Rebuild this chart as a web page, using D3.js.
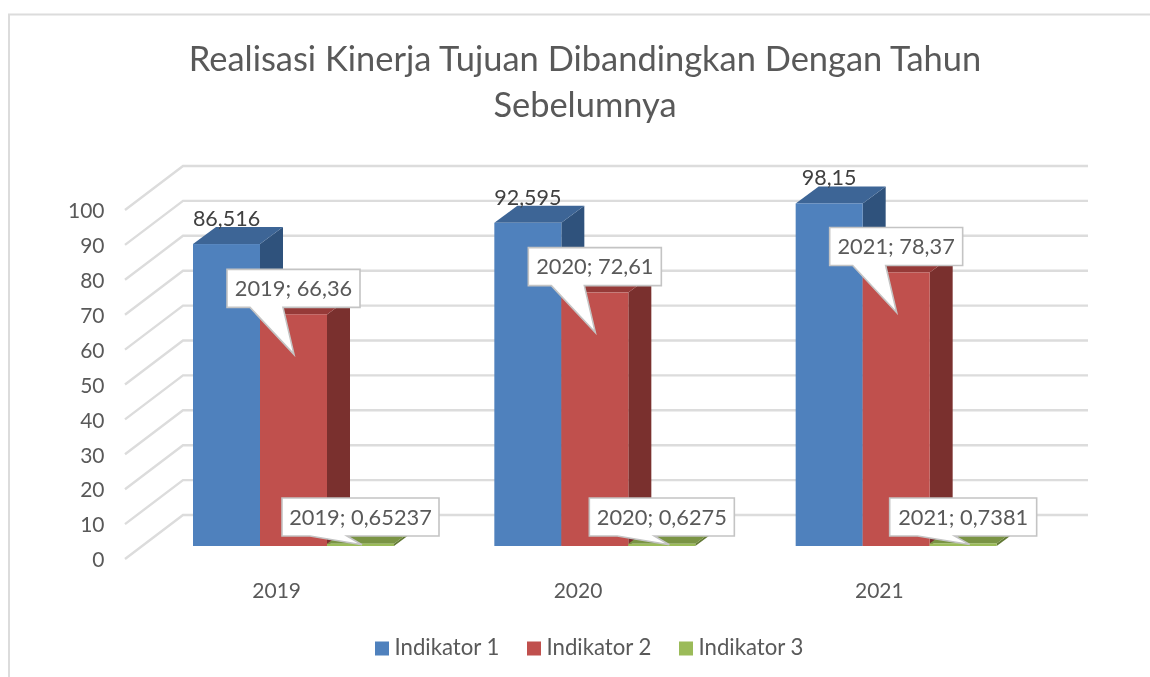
<!DOCTYPE html>
<html><head><meta charset="utf-8">
<script src="https://cdn.jsdelivr.net/npm/d3@7"></script>
<style>html,body{margin:0;padding:0;background:#fff}svg{display:block;filter:blur(0.45px)}text{font-family:Lato,"Open Sans",sans-serif}</style>
</head><body><svg id="c" width="1150" height="677"></svg>
<script>
const titleLines = ["Realisasi Kinerja Tujuan Dibandingkan Dengan Tahun", "Sebelumnya"];
const years = ["2019", "2020", "2021"];
const seriesNames = ["Indikator 1", "Indikator 2", "Indikator 3"];
const indikator1 = [86.516, 92.595, 98.15];
const indikator2 = [66.36, 72.61, 78.37];
const indikator3 = [0.65237, 0.6275, 0.7381];
const label1 = ["86,516", "92,595", "98,15"];
const label2 = ["2019; 66,36", "2020; 72,61", "2021; 78,37"];
const label3 = ["2019; 0,65237", "2020; 0,6275", "2021; 0,7381"];
const yTicks = [0,10,20,30,40,50,60,70,80,90,100];
const fronts = ["#4F81BD", "#C0504D", "#9BBB59"];
const tops = ["#3D6596", "#963A38", "#7A9444"];
const sides = ["#2F527C", "#7A302E", "#637A36"];
const values = [indikator1, indikator2, indikator3];

const svg = d3.select("#c");
const txt = "#595959";
// frame
svg.append("path").attr("d","M9,677V14.5H1150").attr("fill","none").attr("stroke","#dcdcdc").attr("stroke-width",2);
// title
svg.selectAll(".t").data(titleLines).join("text").attr("class","t")
  .attr("x",585).attr("y",(d,i)=>71+i*45.5).attr("text-anchor","middle")
  .attr("font-size",34.45).attr("fill",txt).text(d=>d);

const y = d3.scaleLinear().domain([0,100]).range([559,210]);
const x0 = d3.scaleBand().domain(years).range([126,1030]);
const x1 = d3.scaleBand().domain(seriesNames).range([0,201]);
const wallDx=58, wallDy=44, barOffX=67, barOffY=13, depthX=23, depthY=17;

// walls
const grid = svg.append("g").attr("fill","none").attr("stroke","#dcdcdc").attr("stroke-width",2.4);
grid.selectAll("path").data(yTicks).join("path")
  .attr("d",d=>`M125,${y(d)}L${125+wallDx},${y(d)-wallDy}H1088`);

// y axis
const ax = svg.append("g").attr("transform","translate(104.5,1)")
  .call(d3.axisLeft(y).tickValues(yTicks).tickSize(0).tickPadding(0));
ax.select(".domain").remove();
ax.selectAll("text").attr("font-size",21).attr("fill",txt).style("font-family","Lato");

// x axis labels
const xa = svg.append("g").attr("transform","translate(0,583)")
  .call(d3.axisBottom(x0).tickSize(0).tickPadding(0));
xa.select(".domain").remove();
xa.selectAll("text").attr("font-size",21).attr("fill",txt).style("font-family","Lato");

// bars
const geo = (yi,si)=>{
  const xL = x0(years[yi]) + barOffX + x1(seriesNames[si]);
  const w = x1.bandwidth();
  const yT = y(values[si][yi]) - barOffY, yB = y(0) - barOffY;
  return {xL,w,yT,yB};
};
years.forEach((yr,yi)=>{
  const g = svg.append("g");
  seriesNames.forEach((s,si)=>{
    const {xL,w,yT,yB} = geo(yi,si);
    g.append("path").attr("fill",sides[si])
     .attr("d",`M${xL+w},${yT}l${depthX},${-depthY}V${yB-depthY}L${xL+w},${yB}Z`);
    g.append("path").attr("fill",tops[si])
     .attr("d",`M${xL},${yT}l${depthX},${-depthY}h${w}l${-depthX},${depthY}Z`);
    g.append("rect").attr("fill",fronts[si]).attr("x",xL).attr("y",yT).attr("width",w).attr("height",yB-yT);
  });
});

// plain labels for first series
years.forEach((yr,yi)=>{
  const {xL,yT} = geo(yi,0);
  svg.append("text").attr("x",xL+33.5).attr("y",yT-18).attr("text-anchor","middle")
    .attr("font-size",21.5).attr("fill","#404040").text(label1[yi]);
});

// callouts
function callout(label,bx,by,bw,bh,b1,b2,tx,ty){
  const g = svg.append("g");
  g.append("path").attr("fill","#fff").attr("stroke","#c4c4c4").attr("stroke-width",1.6)
   .attr("stroke-linejoin","miter")
   .attr("d",`M${bx},${by}h${bw}v${bh}H${b2}L${tx},${ty}L${b1},${by+bh}H${bx}Z`);
  g.append("text").attr("x",bx+bw/2).attr("y",by+bh/2+7.5).attr("text-anchor","middle")
   .attr("font-size",21.8).attr("fill",txt).text(label);
}
years.forEach((yr,yi)=>{
  const r = geo(yi,1);
  const bx = r.xL-33, by = r.yT-45;
  callout(label2[yi],bx,by,133,38,bx+23,bx+56,bx+67,by+85);
  const gr = geo(yi,2);
  const w3 = [157,145,147][yi];
  const bx3 = gr.xL+[-45,-39,-40][yi], by3 = 498;
  callout(label3[yi],bx3,by3,w3,38,bx3+28,bx3+65,bx3+80,gr.yT+1);
});

// legend
const lx = [375,527,679];
seriesNames.forEach((s,i)=>{
  svg.append("rect").attr("x",lx[i]).attr("y",641.5).attr("width",14).attr("height",14).attr("fill",fronts[i]);
  svg.append("text").attr("x",lx[i]+19.5).attr("y",655).attr("font-size",22.2).attr("fill",txt).text(s);
});
</script></body></html>
